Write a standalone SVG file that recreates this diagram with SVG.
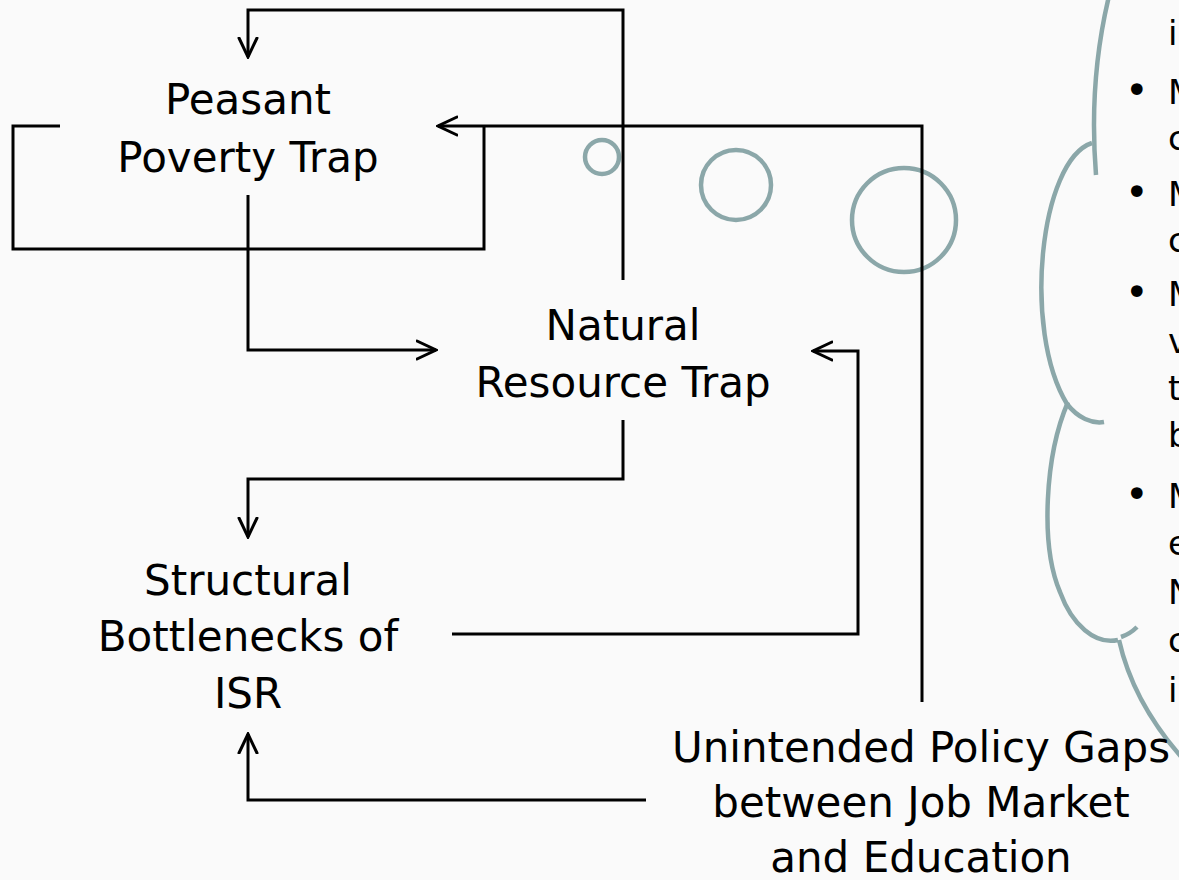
<svg xmlns="http://www.w3.org/2000/svg" width="1179" height="880" viewBox="0 0 1179 880">
  <style>
    .label { font-family: "DejaVu Sans", "Liberation Sans", sans-serif; font-size: 42px; fill: #000; text-anchor: middle; }
    .note { font-family: "DejaVu Sans", "Liberation Sans", sans-serif; font-size: 34px; fill: #000; }
    .bullet { font-family: "DejaVu Sans", "Liberation Sans", sans-serif; font-size: 40px; fill: #000; }
    .link { fill: none; stroke: #000; stroke-width: 3; stroke-linejoin: miter; }
    .cloud { fill: none; stroke: #8BA7A9; stroke-width: 4.5; stroke-linecap: butt; }
  </style>
  <defs>
    <marker id="arrow" viewBox="0 0 22 22" refX="20" refY="11" markerWidth="22" markerHeight="22" markerUnits="userSpaceOnUse" orient="auto">
      <path d="M1,2 L20,11 L1,20" fill="none" stroke="#000" stroke-width="3" stroke-linecap="round" stroke-linejoin="miter"/>
    </marker>
  </defs>
  <rect width="1179" height="880" fill="#fafafa"/>

  <!-- thought cloud: outline arcs and bubbles -->
  <g id="cloud">
    <path class="cloud" d="M1110,-8 C1098,40 1090,100 1096,175"/>
    <path class="cloud" d="M1092,143 C1040,160 1022,330 1067,404 C1078,418 1092,424 1104,422"/>
    <path class="cloud" d="M1068,402 C1045,455 1040,545 1060,592 C1072,625 1095,645 1118,640"/>
    <path class="cloud" d="M1121,637 Q1130,634 1137,627"/>
    <path class="cloud" d="M1119,640 C1128,680 1150,722 1184,760"/>
    <circle class="cloud" cx="602" cy="157" r="17"/>
    <circle class="cloud" cx="736" cy="185" r="35"/>
    <circle class="cloud" cx="904" cy="220" r="52"/>
    <g class="note">
      <text x="1168" y="45">i</text>
      <text class="bullet" x="1125" y="104">•</text><text x="1168" y="104">M</text>
      <text x="1168" y="150">c</text>
      <text class="bullet" x="1125" y="206">•</text><text x="1168" y="206">M</text>
      <text x="1168" y="252">c</text>
      <text class="bullet" x="1125" y="306">•</text><text x="1168" y="306">M</text>
      <text x="1168" y="353">v</text>
      <text x="1168" y="400">t</text>
      <text x="1168" y="447">b</text>
      <text class="bullet" x="1125" y="508">•</text><text x="1168" y="508">M</text>
      <text x="1168" y="555">e</text>
      <text x="1168" y="604">N</text>
      <text x="1168" y="652">c</text>
      <text x="1168" y="702">i</text>
    </g>
  </g>

  <!-- connectors -->
  <g id="connectors">
    <path class="link" d="M623,280 V10 H248 V57" marker-end="url(#arrow)"/>
    <path class="link" d="M922,702 V126 H438" marker-end="url(#arrow)"/>
    <path class="link" d="M60,126 H13 V249 H484 V126"/>
    <path class="link" d="M248,195 V350 H436" marker-end="url(#arrow)"/>
    <path class="link" d="M623,420 V479 H248 V537" marker-end="url(#arrow)"/>
    <path class="link" d="M452,634 H858 V351 H813" marker-end="url(#arrow)"/>
    <path class="link" d="M646,800 H248 V734" marker-end="url(#arrow)"/>
  </g>

  <!-- nodes -->
  <g id="peasant-poverty-trap">
    <text class="label" x="248" y="114">Peasant</text>
    <text class="label" x="248" y="172">Poverty Trap</text>
  </g>
  <g id="natural-resource-trap">
    <text class="label" x="623" y="340">Natural</text>
    <text class="label" x="623" y="397">Resource Trap</text>
  </g>
  <g id="structural-bottlenecks">
    <text class="label" x="248" y="595">Structural</text>
    <text class="label" x="248" y="651">Bottlenecks of</text>
    <text class="label" x="248" y="708">ISR</text>
  </g>
  <g id="policy-gaps">
    <text class="label" x="921" y="762">Unintended Policy Gaps</text>
    <text class="label" x="921" y="817">between Job Market</text>
    <text class="label" x="921" y="872">and Education</text>
  </g>
</svg>
